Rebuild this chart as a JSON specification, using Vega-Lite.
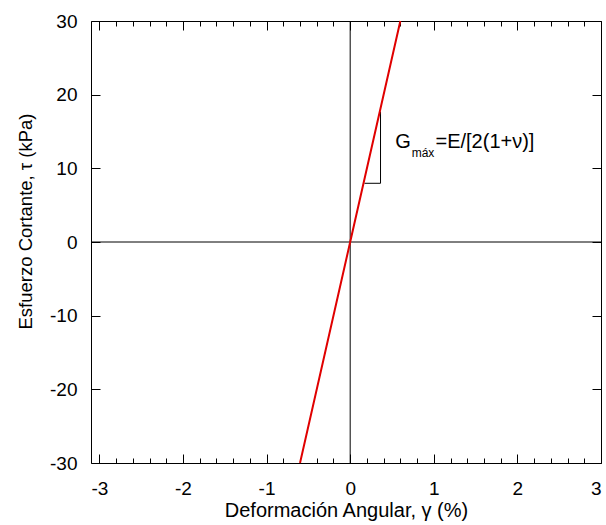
{
  "$schema": "https://vega.github.io/schema/vega-lite/v6.json",
  "width": 510,
  "height": 442,
  "autosize": {"type": "none"},
  "padding": {"left": 91, "top": 21, "right": 5, "bottom": 62},
  "background": "white",
  "config": {
    "view": {"stroke": "black", "strokeWidth": 1},
    "font": "Liberation Sans",
    "axis": {"grid": false, "domain": false, "tickColor": "black", "tickWidth": 1,
             "labelFont": "Liberation Sans", "labelFontSize": 19, "labelColor": "black",
             "titleFont": "Liberation Sans", "titleFontSize": 19, "titleFontWeight": "normal", "titleColor": "black"}
  },
  "datasets": {
    "curve": [{"gamma": -0.6, "tau": -30}, {"gamma": 0, "tau": 0}, {"gamma": 0.6, "tau": 30}],
    "vzero": [{"gamma": 0}],
    "hzero": [{"tau": 0}],
    "slope": [{"gamma": 0.171, "tau": 7.97, "order": 1}, {"gamma": 0.363, "tau": 7.97, "order": 2}, {"gamma": 0.363, "tau": 17.7, "order": 3}],
    "labels": [
      {"gamma": 0.54, "tau": 12.76, "text": "G", "part": "main"},
      {"gamma": 0.735, "tau": 11.5, "text": "máx", "part": "sub"},
      {"gamma": 1.02, "tau": 12.76, "text": "=E/[2(1+ν)]", "part": "main"}
    ]
  },
  "resolve": {"axis": {"x": "independent", "y": "independent"}},
  "layer": [
    {
      "data": {"name": "curve"},
      "mark": {"type": "point", "opacity": 0},
      "encoding": {
        "x": {"field": "gamma", "type": "quantitative",
              "scale": {"domain": [-3.1, 3], "nice": false, "zero": false},
              "axis": {"orient": "bottom", "values": [-3, -2, -1, 0, 1, 2, 3], "offset": -9, "tickSize": 9, "labelPadding": 16,
                       "labelExpr": "toString(datum.value)", "title": "Deformación Angular, γ (%)", "titleFontSize": 20, "titlePadding": 2}},
        "y": {"field": "tau", "type": "quantitative",
              "scale": {"domain": [-30, 30], "nice": false, "zero": false},
              "axis": {"orient": "left", "values": [-30, -20, -10, 0, 10, 20, 30], "offset": -9, "tickSize": 9, "labelPadding": 14,
                       "labelExpr": "toString(datum.value)", "title": "Esfuerzo Cortante, τ  (kPa)", "titleFontSize": 18.5, "titlePadding": 14, "titleY": 200}}
      }
    },
    {
      "data": {"name": "curve"},
      "mark": {"type": "point", "opacity": 0},
      "encoding": {
        "x": {"field": "gamma", "type": "quantitative",
              "axis": {"orient": "bottom", "values": [-2.8, -2.6, -2.4, -2.2, -1.8, -1.6, -1.4, -1.2, -0.8, -0.6, -0.4, -0.2, 0.2, 0.4, 0.6, 0.8, 1.2, 1.4, 1.6, 1.8, 2.2, 2.4, 2.6, 2.8],
                       "offset": -5, "tickSize": 5, "labels": false, "title": null}},
        "y": {"field": "tau", "type": "quantitative",
              "axis": {"orient": "right", "values": [-30, -20, -10, 0, 10, 20, 30], "offset": -9, "tickSize": 9, "labels": false, "title": null}}
      }
    },
    {
      "data": {"name": "curve"},
      "mark": {"type": "point", "opacity": 0},
      "encoding": {
        "x": {"field": "gamma", "type": "quantitative",
              "axis": {"orient": "top", "values": [-3, -2, -1, 0, 1, 2, 3], "offset": -9, "tickSize": 9, "labels": false, "title": null}},
        "y": {"field": "tau", "type": "quantitative", "axis": null}
      }
    },
    {
      "data": {"name": "curve"},
      "mark": {"type": "point", "opacity": 0},
      "encoding": {
        "x": {"field": "gamma", "type": "quantitative",
              "axis": {"orient": "top", "values": [-2.8, -2.6, -2.4, -2.2, -1.8, -1.6, -1.4, -1.2, -0.8, -0.6, -0.4, -0.2, 0.2, 0.4, 0.6, 0.8, 1.2, 1.4, 1.6, 1.8, 2.2, 2.4, 2.6, 2.8],
                       "offset": -5, "tickSize": 5, "labels": false, "title": null}},
        "y": {"field": "tau", "type": "quantitative", "axis": null}
      }
    },
    {
      "data": {"name": "vzero"},
      "mark": {"type": "rule", "color": "black", "strokeWidth": 1},
      "encoding": {"x": {"field": "gamma", "type": "quantitative", "axis": null}}
    },
    {
      "data": {"name": "hzero"},
      "mark": {"type": "rule", "color": "black", "strokeWidth": 1},
      "encoding": {"y": {"field": "tau", "type": "quantitative", "axis": null}}
    },
    {
      "data": {"name": "slope"},
      "mark": {"type": "line", "color": "black", "strokeWidth": 1},
      "encoding": {
        "x": {"field": "gamma", "type": "quantitative", "axis": null},
        "y": {"field": "tau", "type": "quantitative", "axis": null},
        "order": {"field": "order"}
      }
    },
    {
      "data": {"name": "curve"},
      "mark": {"type": "line", "color": "#e00000", "strokeWidth": 2},
      "encoding": {
        "x": {"field": "gamma", "type": "quantitative", "axis": null},
        "y": {"field": "tau", "type": "quantitative", "axis": null}
      }
    },
    {
      "data": {"name": "labels"},
      "mark": {"type": "text", "align": "left", "baseline": "alphabetic", "font": "Liberation Sans", "color": "black"},
      "encoding": {
        "x": {"field": "gamma", "type": "quantitative", "axis": null},
        "y": {"field": "tau", "type": "quantitative", "axis": null},
        "text": {"field": "text"},
        "size": {"field": "part", "type": "nominal", "scale": {"domain": ["main", "sub"], "range": [20, 12]}, "legend": null}
      }
    }
  ]
}
